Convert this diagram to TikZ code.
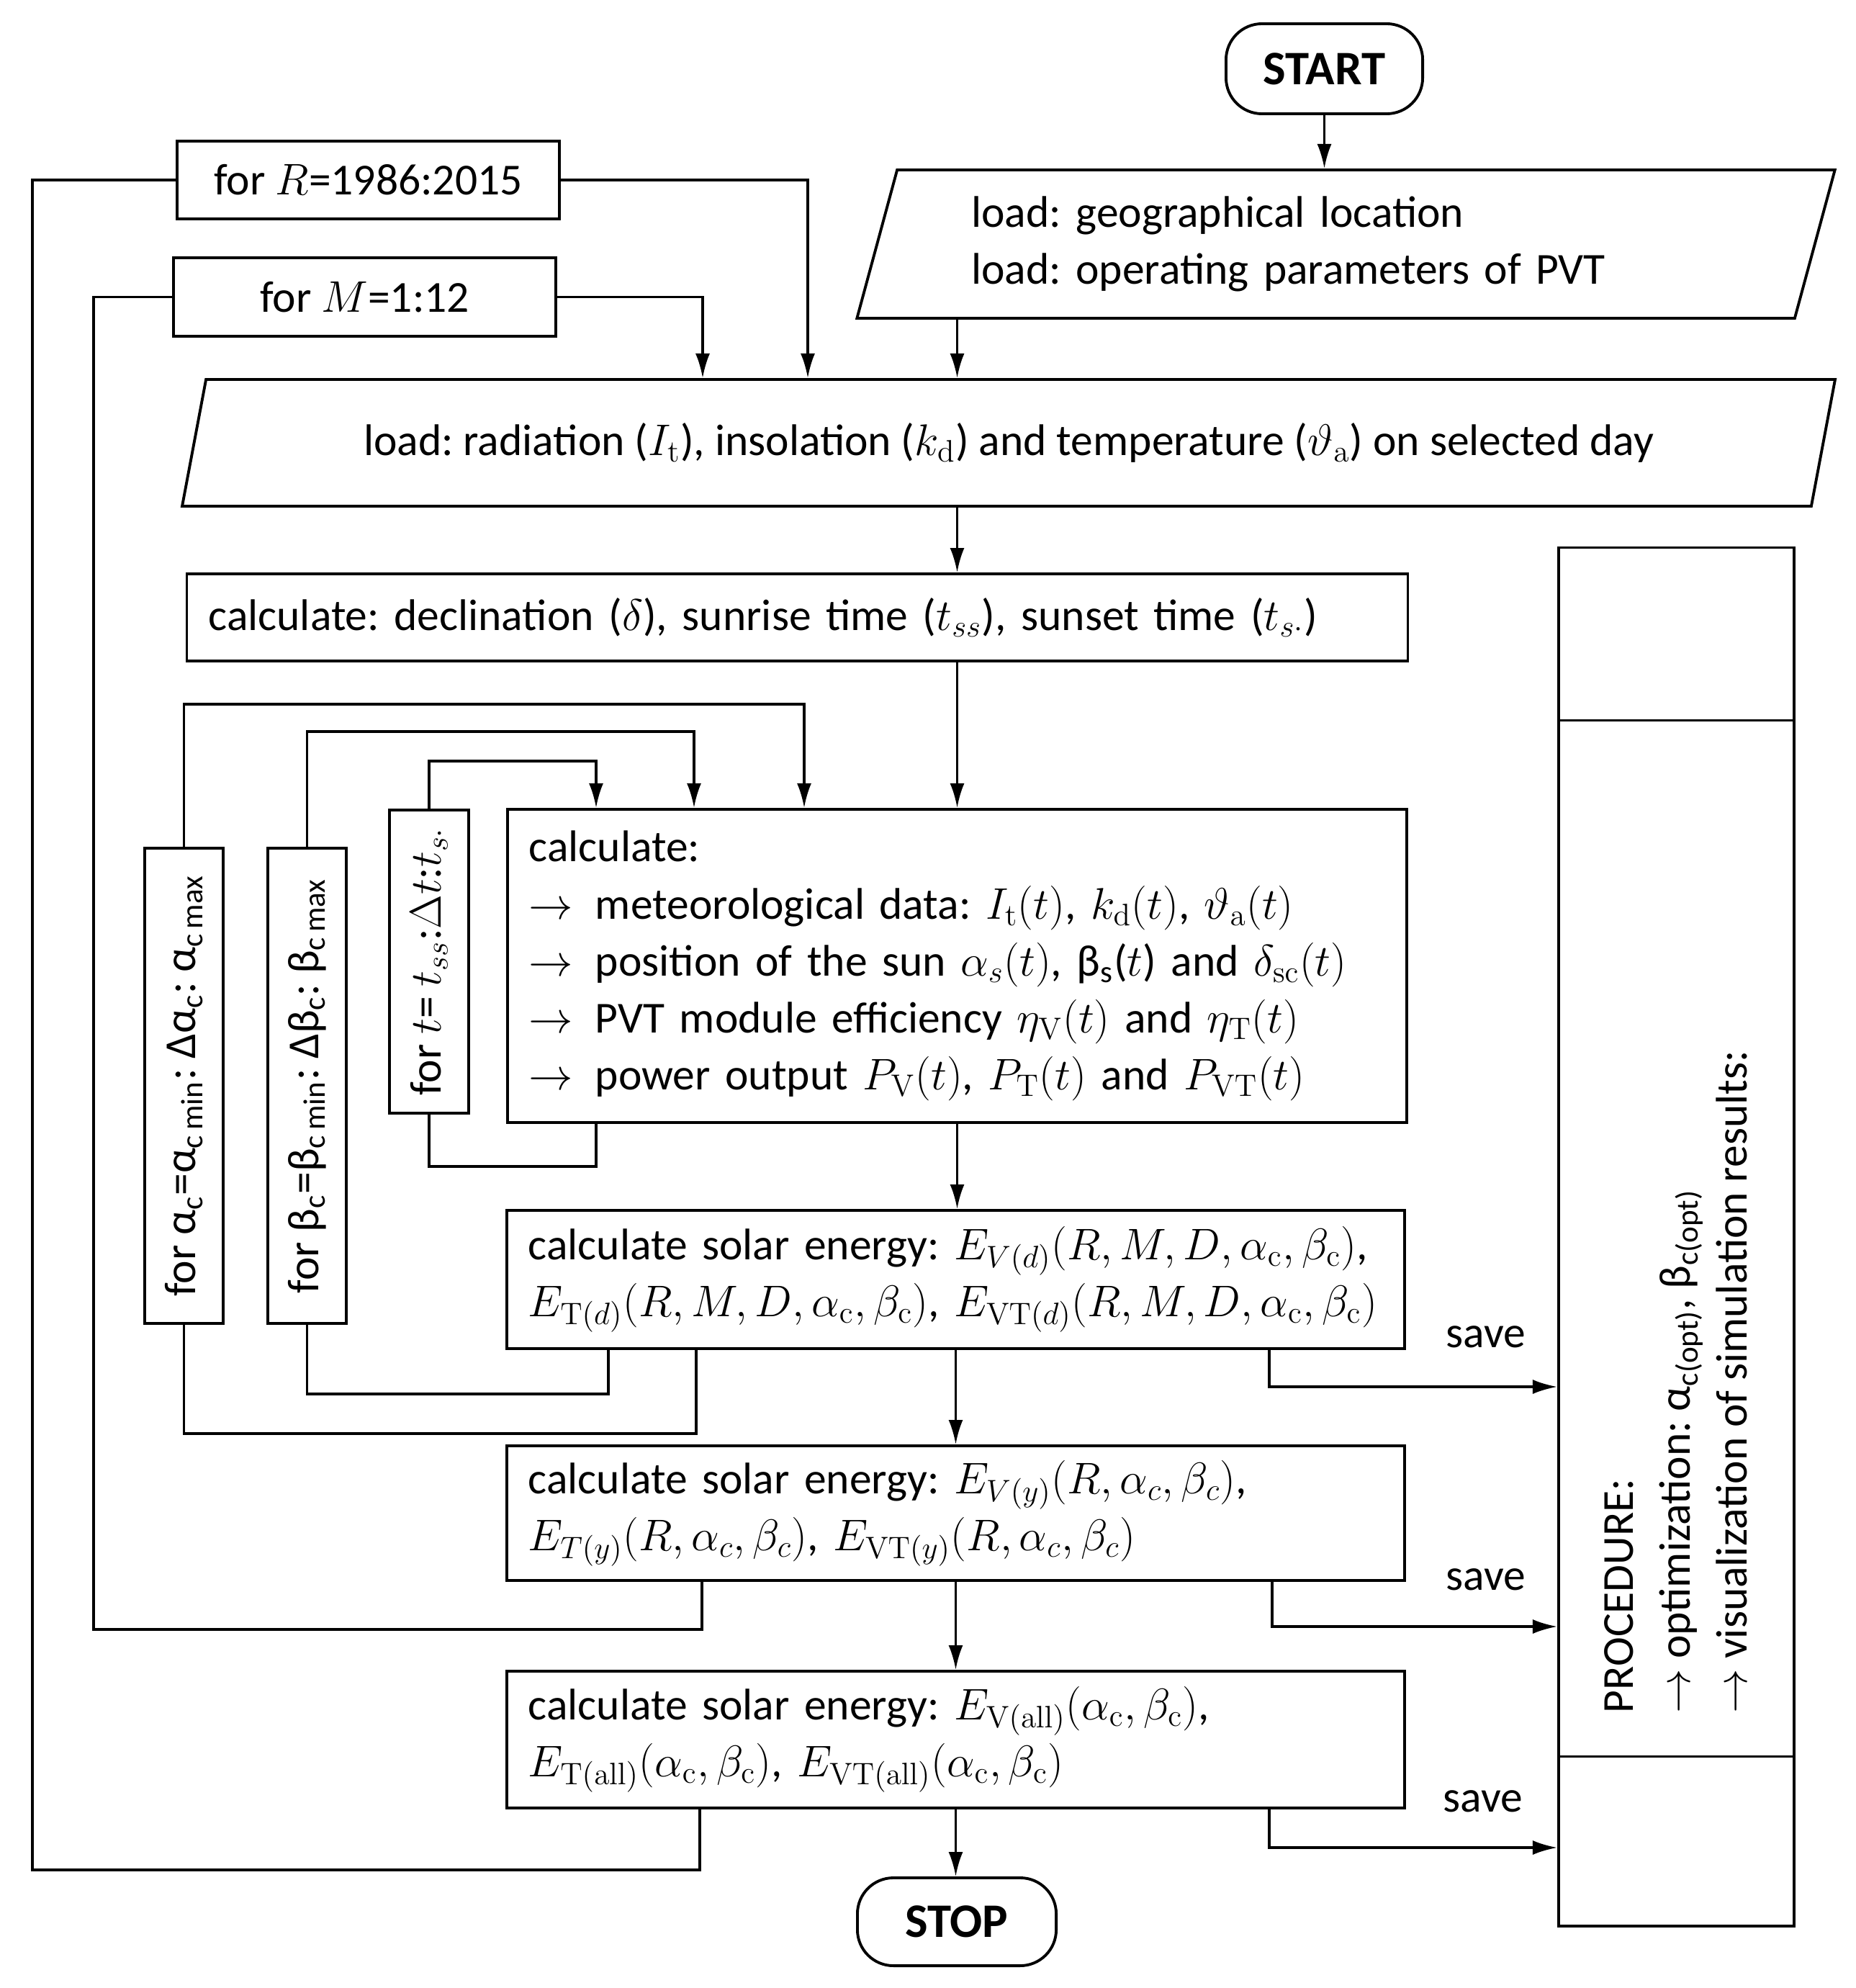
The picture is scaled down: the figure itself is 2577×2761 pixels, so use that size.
\documentclass[tikz,border=0pt]{standalone}
\usepackage{fix-cm}
\usepackage{amsmath}
\usepackage[no-math]{fontspec}
\setmainfont{Carlito}
\usetikzlibrary{shapes.geometric, arrows.meta, positioning, calc}
\frenchspacing

\begin{document}
\begin{tikzpicture}[
    x=0.01cm, y=-0.01cm,
    every node/.style={font=\fontsize{17.5}{22.5}\selectfont},
    calcbox/.style={rectangle, draw, line width=1.1pt, inner xsep=0.3cm, align=left},
    forbox/.style={rectangle, draw, line width=1.1pt, inner sep=0pt},
    iobox/.style={trapezium, draw, line width=1.1pt, trapezium stretches=true},
    termbox/.style={rectangle, draw, rounded corners=0.5cm, line width=1.1pt, font=\fontsize{19}{22}\selectfont\bfseries},
    arrow/.style={-{Latex[length=0.34cm,width=0.2cm]}, line width=1pt},
    wire/.style={line width=1pt}
]
\useasboundingbox (0,0) rectangle (2577,2761);

% Terminals
\node[termbox, minimum width=2.73cm, minimum height=1.25cm] (start) at (1839.5,95.5) {START};
\node[termbox, minimum width=2.76cm, minimum height=1.22cm] (stop) at (1329,2669) {STOP};

% Inputs
\node[iobox, trapezium left angle=73, trapezium right angle=107, minimum width=13.63cm, minimum height=2.06cm, text width=10.4cm, align=left] (geo) at (1869.5,339) {load: geographical location\\load: operating parameters of PVT};
\node[iobox, trapezium left angle=71, trapezium right angle=109, minimum width=23cm, minimum height=1.76cm] (meteo) at (1401,615) {load: radiation ($I_{\mathrm{t}}$), insolation ($k_{\mathrm{d}}$) and temperature ($\vartheta_{\mathrm{a}}$) on selected day};

% Loops
\node[forbox, minimum width=5.31cm, minimum height=1.08cm] (year) at (511.5,250) {for $R$=1986:2015};
\node[forbox, minimum width=5.31cm, minimum height=1.09cm] (month) at (506.5,412.5) {for $M$=1:12};
\node[forbox, minimum width=1.09cm, minimum height=6.60cm] (alpha) at (255.5,1508) {\rotatebox{90}{for α\textsubscript{c}=α\textsubscript{c\,min}: Δα\textsubscript{c}: α\textsubscript{c\,max}}};
\node[forbox, minimum width=1.09cm, minimum height=6.60cm] (beta) at (426.5,1508) {\rotatebox{90}{for β\textsubscript{c}=β\textsubscript{c\,min}: Δβ\textsubscript{c}: β\textsubscript{c\,max}}};
\node[forbox, minimum width=1.10cm, minimum height=4.21cm] (hour) at (596,1335.5) {\rotatebox{90}{for $t$= $t_{ss}$:$\Delta t$:$t_{s\cdot}$}};

% Calculations
\node[calcbox, text width=16.35cm, minimum height=1.21cm] (sun) at (1107.5,857.5) {calculate: declination ($\delta$), sunrise time ($t_{ss}$), sunset time ($t_{s\cdot}$)};
\node[calcbox, text width=11.89cm, minimum height=4.35cm] (hourly) at (1329.5,1341.5) {calculate:\\
$\rightarrow$\enspace meteorological data: $I_{\mathrm{t}}(t)$, $k_{\mathrm{d}}(t)$, $\vartheta_{\mathrm{a}}(t)$\\
$\rightarrow$\enspace position of the sun $\alpha_s(t)$, β\textsubscript{s}($t$) and $\delta_{\mathrm{sc}}(t)$\\
$\rightarrow$\enspace PVT module efficiency $\eta_{\mathrm{V}}(t)$ and $\eta_{\mathrm{T}}(t)$\\
$\rightarrow$\enspace power output $P_{\mathrm{V}}(t)$, $P_{\mathrm{T}}(t)$ and $P_{\mathrm{VT}}(t)$};
\node[calcbox, text width=11.87cm, minimum height=1.92cm] (daily) at (1327.5,1777) {calculate solar energy: $E_{V(d)}(R, M, D, \alpha_{\mathrm{c}}, \beta_{\mathrm{c}})$,\\
$E_{\mathrm{T}(d)}(R, M, D, \alpha_{\mathrm{c}}, \beta_{\mathrm{c}})$, $E_{\mathrm{VT}(d)}(R, M, D, \alpha_{\mathrm{c}}, \beta_{\mathrm{c}})$};
\node[calcbox, text width=11.87cm, minimum height=1.87cm] (yearly) at (1327.5,2101.5) {calculate solar energy: $E_{V(y)}(R, \alpha_c, \beta_c)$,\\
$E_{T(y)}(R, \alpha_c, \beta_c)$, $E_{\mathrm{VT}(y)}(R, \alpha_c, \beta_c)$};
\node[calcbox, text width=11.87cm, minimum height=1.90cm] (total) at (1327.5,2416) {calculate solar energy: $E_{\mathrm{V(all)}}(\alpha_{\mathrm{c}}, \beta_{\mathrm{c}})$,\\
$E_{\mathrm{T(all)}}(\alpha_{\mathrm{c}}, \beta_{\mathrm{c}})$, $E_{\mathrm{VT(all)}}(\alpha_{\mathrm{c}}, \beta_{\mathrm{c}})$};

% Procedure
\node[forbox, minimum width=3.27cm, minimum height=19.13cm] (proc) at (2328.5,1717.5) {};
\draw[wire] ([yshift=-2.42cm]proc.north west) -- ([yshift=-2.42cm]proc.north east);
\draw[wire] ([yshift=2.37cm]proc.south west) -- ([yshift=2.37cm]proc.south east);
\node[rotate=90, anchor=west, align=left, inner sep=0pt] (proctext) at (2328,2380) {PROCEDURE:\\
$\rightarrow$ optimization: α\textsubscript{c(opt)}, β\textsubscript{c(opt)}\\
$\rightarrow$ visualization of simulation results:};

% Main flow
\draw[arrow] (start) -- (start |- geo.north);
\draw[arrow] (geo.south -| hourly) -- (meteo.north -| hourly);
\draw[arrow] (meteo.south -| hourly) -- (hourly |- sun.north);
\draw[arrow] (sun.south -| hourly) -- (hourly.north);
\draw[arrow] (hourly.south) -- (hourly.south |- daily.north);
\draw[arrow] (daily) -- (yearly);
\draw[arrow] (yearly) -- (total);
\draw[arrow] (total.south) -- (total.south |- stop.north);

% Loop for R
\coordinate (yearin) at (1122,255);
\coordinate (yearret) at (45,2597);
\coordinate (yearup) at (972,2597);
\draw[arrow] (year.east) -| (yearin |- meteo.north);
\draw[wire] (year.west) -| (yearret) -- (yearup) -- (yearup |- total.south);

% Loop for M
\coordinate (monthin) at (976,417);
\coordinate (monthret) at (130,2263);
\coordinate (monthup) at (975,2263);
\draw[arrow] (month.east) -| (monthin |- meteo.north);
\draw[wire] (month.west) -| (monthret) -- (monthup) -- (monthup |- yearly.south);

% Loop for alpha
\coordinate (alphain) at (1117,978);
\coordinate (alpharet) at (967,1991);
\draw[arrow] (alpha.north) |- (alphain) -- (alphain |- hourly.north);
\draw[wire] (alpha.south) |- (alpharet) -- (alpharet |- daily.south);

% Loop for beta
\coordinate (betain) at (964,1016);
\coordinate (betaret) at (845,1936);
\draw[arrow] (beta.north) |- (betain) -- (betain |- hourly.north);
\draw[wire] (beta.south) |- (betaret) -- (betaret |- daily.south);

% Loop for t
\coordinate (hourin) at (828,1057);
\coordinate (hourret) at (828,1620);
\draw[arrow] (hour.north) |- (hourin) -- (hourin |- hourly.north);
\draw[wire] (hour.south) |- (hourret) -- (hourret |- hourly.south);

% Save
\coordinate (save1) at (1763,1926);
\coordinate (save2) at (1767,2259);
\coordinate (save3) at (1763,2566);
\draw[arrow] (save1 |- daily.south) |- (save1 -| proc.west);
\draw[arrow] (save2 |- yearly.south) |- (save2 -| proc.west);
\draw[arrow] (save3 |- total.south) |- (save3 -| proc.west);
\node (lsave1) at (2064,1857) {save};
\node (lsave2) at (2064,2194) {save};
\node (lsave3) at (2060,2502) {save};

\end{tikzpicture}
\end{document}
